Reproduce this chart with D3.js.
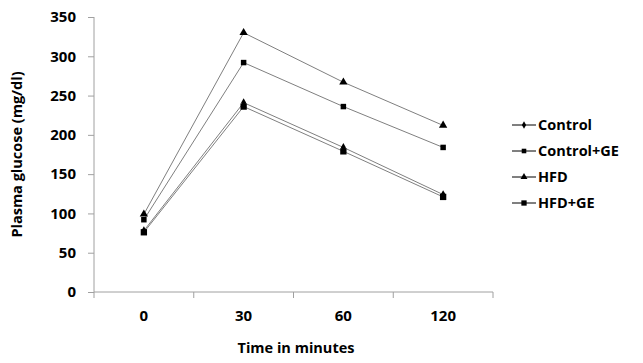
<!DOCTYPE html>
<html lang="en">
<head>
  <meta charset="UTF-8">
  <title>Plasma glucose</title>
  <script src="https://d3js.org/d3.v7.min.js"></script>
  <style>
    body { margin: 0; background: #fff; font-family: 'Open Sans', sans-serif; }
    .tick text { font-size: 15px; font-weight: bold; fill: #000; font-family: 'Open Sans', sans-serif; }
    .axis path, .axis line { stroke: #a0a0a0; }
    .label { font-size: 14.5px; font-weight: bold; fill: #000; }
    .legend text { font-size: 14.5px; font-weight: bold; fill: #000; }
  </style>
</head>
<body>
  <svg width="643" height="363"></svg>
  <script>
    const times = ["0", "30", "60", "120"];
    const seriesNames = ["Control", "Control+GE", "HFD", "HFD+GE"];
    const control = [78, 241, 184, 124];
    const controlGE = [92, 292, 236, 184];
    const hfd = [99, 330, 267, 212];
    const hfdGE = [76, 236, 179, 121];
    const yTicks = [0, 50, 100, 150, 200, 250, 300, 350];

    const series = [
      { name: seriesNames[0], values: control, symbol: d3.symbolDiamond, size: 22 },
      { name: seriesNames[1], values: controlGE, symbol: d3.symbolSquare, size: 30 },
      { name: seriesNames[2], values: hfd, symbol: d3.symbolTriangle, size: 30 },
      { name: seriesNames[3], values: hfdGE, symbol: d3.symbolSquare, size: 40 }
    ];

    const svg = d3.select("svg");
    const mLeft = 94, mRight = 493, mTop = 17, mBottom = 292;

    const x = d3.scaleBand().domain(times).range([mLeft, mRight]);
    const y = d3.scaleLinear().domain([0, 350]).range([mBottom, mTop]);

    // y axis
    svg.append("g")
      .attr("class", "axis")
      .attr("transform", `translate(${mLeft},0)`)
      .call(d3.axisLeft(y).tickValues(yTicks).tickSize(6).tickPadding(12))
      .call(g => g.select(".domain").attr("d", `M0,${mTop}V${mBottom}`));

    // x axis, ticks on category boundaries
    const xg = svg.append("g")
      .attr("class", "axis")
      .attr("transform", `translate(0,${mBottom})`);
    xg.append("line").attr("x1", mLeft).attr("x2", mRight).attr("stroke", "#a0a0a0");
    const bounds = times.map(t => x(t)).concat([mRight]);
    xg.selectAll(".bt").data(bounds).enter().append("line")
      .attr("x1", d => d).attr("x2", d => d).attr("y1", 0).attr("y2", 6)
      .attr("stroke", "#a0a0a0");
    xg.selectAll(".tick").data(times).enter().append("g")
      .attr("class", "tick")
      .append("text")
      .attr("x", d => x(d) + x.bandwidth() / 2)
      .attr("y", 29)
      .attr("text-anchor", "middle")
      .text(d => d);

    const line = d3.line()
      .x((d, i) => x(times[i]) + x.bandwidth() / 2)
      .y(d => y(d));

    series.forEach(s => {
      svg.append("path")
        .datum(s.values)
        .attr("d", line)
        .attr("fill", "none")
        .attr("stroke", "#7f7f7f")
        .attr("stroke-width", 1);
    });
    series.forEach(s => {
      svg.selectAll(null).data(s.values).enter().append("path")
        .attr("d", d3.symbol().type(s.symbol).size(s.size))
        .attr("transform", (d, i) => `translate(${x(times[i]) + x.bandwidth() / 2},${y(d)})`)
        .attr("fill", "#000");
    });

    // axis titles
    svg.append("text")
      .attr("class", "label")
      .attr("transform", `translate(22,${(mTop + mBottom) / 2}) rotate(-90)`)
      .attr("text-anchor", "middle")
      .text("Plasma glucose (mg/dl)");
    svg.append("text")
      .attr("class", "label")
      .attr("x", 296).attr("y", 353)
      .attr("text-anchor", "middle")
      .text("Time in minutes");

    // legend
    const lg = svg.append("g").attr("class", "legend");
    series.forEach((s, i) => {
      const ly = 125 + i * 26;
      lg.append("line").attr("x1", 512).attr("x2", 536).attr("y1", ly).attr("y2", ly)
        .attr("stroke", "#000").attr("stroke-width", 1);
      lg.append("path")
        .attr("d", d3.symbol().type(s.symbol).size(s.size * 0.7))
        .attr("transform", `translate(524,${ly})`);
      lg.append("text").attr("x", 538).attr("y", ly + 5).text(s.name);
    });
  </script>
</body>
</html>
